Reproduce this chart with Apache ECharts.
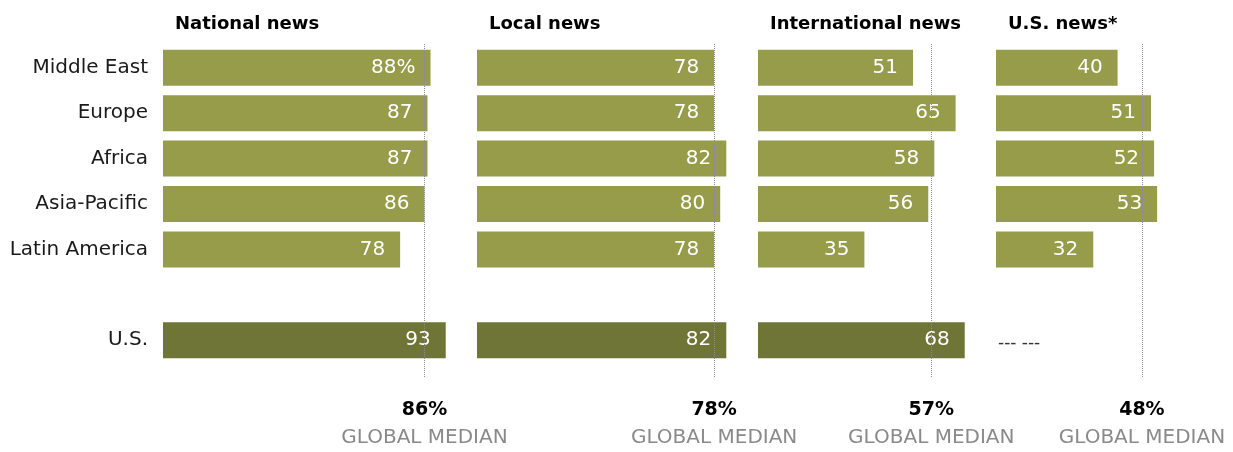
<!DOCTYPE html>
<html><head><meta charset="utf-8">
<script src="https://cdn.jsdelivr.net/npm/echarts@6/dist/echarts.min.js"></script>
<style>html,body{margin:0;padding:0;background:#fff}#c{width:1233px;height:452px}</style>
</head><body><div id="c"></div>
<script>
const categories = ['Middle East', 'Europe', 'Africa', 'Asia-Pacific', 'Latin America', '', 'U.S.'];
const panelTitles = ['National news', 'Local news', 'International news', 'U.S. news*'];
const nationalNews = [88, 87, 87, 86, 78, null, 93];
const localNews = [78, 78, 82, 80, 78, null, 82];
const internationalNews = [51, 65, 58, 56, 35, null, 68];
const usNews = [40, 51, 52, 53, 32, null, null];
const globalMedians = [86, 78, 57, 48];
const missingLabel = '--- ---';

const panelValues = [nationalNews, localNews, internationalNews, usNews];
const panelLeft = [163, 477, 758, 996];
const panelMax = [100, 100, 75, 75];
const pxPerUnit = 3.04;
const FONT = 'DejaVu Sans';
const OLIVE = '#969c4a', DARK = '#6f7537';

const grids = [], xAxes = [], yAxes = [], series = [], titles = [];
panelValues.forEach((vals, p) => {
  const w = panelMax[p] * pxPerUnit;
  grids.push({left: panelLeft[p], top: 45, width: w, height: 318, containLabel: false});
  grids.push({left: panelLeft[p], top: 43, width: w, height: 334, containLabel: false});
  const gMain = p * 2, gOver = p * 2 + 1;
  xAxes.push({type: 'value', gridIndex: gMain, min: 0, max: panelMax[p], show: false});
  xAxes.push({type: 'value', gridIndex: gOver, min: 0, max: panelMax[p], show: false});
  yAxes.push({
    type: 'category', gridIndex: gMain, data: categories, inverse: true,
    axisLine: {show: false}, axisTick: {show: false}, splitLine: {show: false},
    axisLabel: {show: p === 0, fontFamily: FONT, fontSize: 20, color: '#1a1a1a', margin: 15}
  });
  yAxes.push({type: 'value', gridIndex: gOver, min: 0, max: 1, show: false});
  titles.push({
    text: panelTitles[p], left: panelLeft[p] + 7, top: 10,
    textStyle: {fontFamily: FONT, fontWeight: 'bold', fontSize: 18, color: '#000'}
  });
  const data = vals.map((v, i) => {
    if (categories[i] === '') return null;
    if (v === null) {
      return {value: 0, itemStyle: {color: 'transparent'},
        label: {show: true, position: 'right', distance: 2, offset: [0, 3], formatter: missingLabel,
          color: '#333', fontSize: 17, fontFamily: FONT}};
    }
    return {value: v, itemStyle: {color: categories[i] === 'U.S.' ? DARK : OLIVE}};
  });
  series.push({
    type: 'bar', xAxisIndex: gMain, yAxisIndex: gMain, barWidth: 36, silent: true,
    data: data, z: 3,
    label: {
      show: true, position: 'insideRight', distance: 15, color: '#fff',
      fontFamily: FONT, fontSize: 20,
      formatter: (prm) => (p === 0 && prm.dataIndex === 0) ? prm.value + '%' : String(prm.value)
    }
  });
  series.push({
    type: 'scatter', xAxisIndex: gOver, yAxisIndex: gOver, data: [], silent: true, z: 4,
    markLine: {
      silent: true, symbol: 'none', animation: false,
      lineStyle: {color: '#8c8c8c', type: 'dotted', width: 1},
      label: {
        show: true, position: 'start', distance: 20,
        formatter: globalMedians[p] + '%\n{g|GLOBAL MEDIAN}',
        fontFamily: FONT, fontSize: 19, fontWeight: 'bold', color: '#000', lineHeight: 27,
        rich: {g: {fontFamily: FONT, fontSize: 20, fontWeight: 'normal', color: '#8a8a8a', lineHeight: 27}}
      },
      data: [{xAxis: globalMedians[p]}]
    }
  });
});

const chart = echarts.init(document.getElementById('c'), null, {renderer: 'canvas'});
chart.setOption({
  animation: false, backgroundColor: '#fff',
  title: titles, grid: grids, xAxis: xAxes, yAxis: yAxes, series: series
});
</script></body></html>
